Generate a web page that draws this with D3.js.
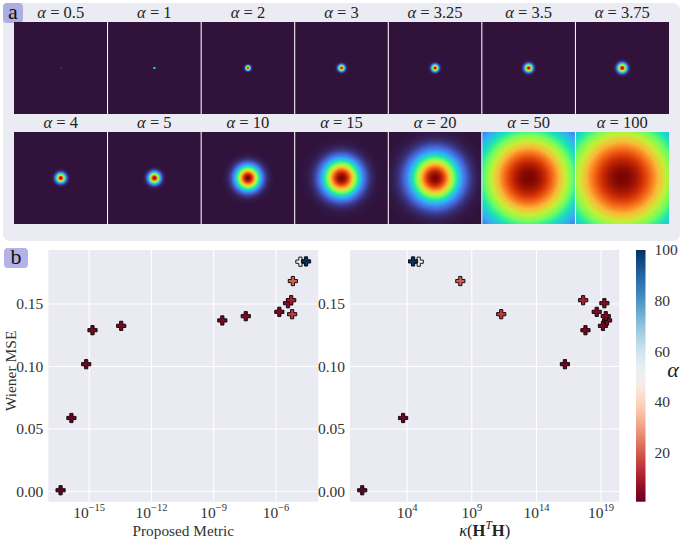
<!DOCTYPE html>
<html><head><meta charset="utf-8">
<script src="https://cdn.jsdelivr.net/npm/d3@7"></script>
<style>
body{margin:0;background:#fff;}
svg{display:block;}
</style>
</head><body>
<svg id="c" width="683" height="540"></svg>
<script>
// ---------- data ----------
const alphas = [0.5, 1, 2, 3, 3.25, 3.5, 3.75, 4, 5, 10, 15, 20, 50, 100];
// blob standard deviation, as a fraction of the image width
const psfSigma = [0.0016, 0.005, 0.016, 0.021, 0.0225, 0.026, 0.030, 0.031, 0.038, 0.081, 0.123, 0.160, 0.363, 0.427];
const mse = [0.001, 0.0588, 0.1018, 0.129, 0.1325, 0.1368, 0.1402, 0.1437, 0.1506, 0.153, 0.1418, 0.1683, 0.1838, 0.184];
const proposedMetric = [4.2e-17, 1.4e-16, 7.2e-16, 1.45e-15, 3.5e-14, 2.6e-9, 3.5e-8, 1.45e-6, 3.8e-6, 5.4e-6, 6.0e-6, 6.5e-6, 1.5e-5, 2.8e-5];
const kappa = [3.4, 4.9e3, 1.6e16, 6.2e17, 1.4e19, 2.9e19, 2.3e19, 4.6e18, 1.8e19, 4.1e17, 1.9e11, 1.3e8, 7.9e4, 2.9e4];
const mseTicks = [0, 0.05, 0.10, 0.15];
const metricTickExps = [-15, -12, -9, -6];
const kappaTickExps = [4, 9, 14, 19];
const cbarTicks = [20, 40, 60, 80, 100];
const turboStops = ["#30123b","#4662d7","#36aaf9","#1ae4b6","#72fe5e","#c8ef34","#faba39","#f66b19","#cb2a04","#7a0403"];

const svg = d3.select("#c");
const turbo = d3.scaleLinear().domain(turboStops.map((_, i) => i / (turboStops.length - 1))).range(turboStops).clamp(true);

function txt(sel) { return sel.append("text").style("font-family", "'Liberation Serif'"); }

// ---------- panel a ----------
svg.append("rect").attr("x", 3).attr("y", 3).attr("width", 677).attr("height", 238).attr("rx", 7).attr("fill", "#ebebf3");
svg.append("rect").attr("x", 3).attr("y", 3).attr("width", 20).attr("height", 20).attr("rx", 4).attr("fill", "#aeaee0");
txt(svg).attr("x", 13).attr("y", 19).attr("text-anchor", "middle").attr("font-size", 22).attr("fill", "#111").text("a");

const imgX0 = 14, imgX1 = 669, nCols = 7;
const rowTops = [22, 132], imgH = 92;
const colScale = d3.scaleBand().domain(d3.range(nCols)).range([imgX0, imgX1]).paddingInner(0);
const cw = colScale.bandwidth();

alphas.forEach((a, i) => {
  const col = i % nCols, row = Math.floor(i / nCols);
  const x = colScale(col), y0 = rowTops[row];
  const W = Math.round(cw), H = imgH;
  const cv = document.createElement("canvas");
  cv.width = W; cv.height = H;
  const ctx = cv.getContext("2d");
  const im = ctx.createImageData(W, H);
  const s = psfSigma[i] * W;
  const ss = 5;
  const mx = W / 2, my = H / 2;
  for (let py = 0; py < H; py++) {
    for (let px = 0; px < W; px++) {
      let acc = 0;
      for (let sy = 0; sy < ss; sy++) for (let sx = 0; sx < ss; sx++) {
        const dx = px + (sx + 0.5) / ss - mx, dy = py + (sy + 0.5) / ss - my;
        acc += Math.exp(-(dx * dx + dy * dy) / (2 * s * s));
      }
      const v = acc / (ss * ss);
      const c = d3.rgb(turbo(v));
      const k = (py * W + px) * 4;
      im.data[k] = c.r; im.data[k + 1] = c.g; im.data[k + 2] = c.b; im.data[k + 3] = 255;
    }
  }
  ctx.putImageData(im, 0, 0);
  svg.append("image").attr("x", x).attr("y", y0).attr("width", cw).attr("height", H)
    .attr("preserveAspectRatio", "none").attr("href", cv.toDataURL());
  const t = txt(svg).attr("x", x + cw / 2).attr("y", y0 - 4).attr("text-anchor", "middle")
    .attr("font-size", 16.5).attr("fill", "#222");
  t.append("tspan").attr("font-style", "italic").text("α");
  t.append("tspan").text(" = " + a);
});
// white separators
for (let r = 0; r < 2; r++) {
  for (let c = 1; c < nCols; c++) {
    svg.append("line").attr("x1", colScale(c)).attr("x2", colScale(c))
      .attr("y1", rowTops[r]).attr("y2", rowTops[r] + imgH).attr("stroke", "#fff").attr("stroke-width", 1);
  }
}

// ---------- panel b ----------
svg.append("rect").attr("x", 4).attr("y", 248).attr("width", 24).attr("height", 20).attr("rx", 4).attr("fill", "#b3b3e8");
txt(svg).attr("x", 16).attr("y", 264).attr("text-anchor", "middle").attr("font-size", 22).attr("fill", "#111").text("b");

const plotTop = 250, plotBottom = 501.7;
function padLog(vals) {
  const e = d3.extent(vals.map(v => Math.log10(v)));
  const p = (e[1] - e[0]) * 0.05;
  return [Math.pow(10, e[0] - p), Math.pow(10, e[1] + p)];
}
const me = d3.extent(mse), mp = (me[1] - me[0]) * 0.05;
const yScale = d3.scaleLinear().domain([me[0] - mp, me[1] + mp]).range([plotBottom, plotTop]);
const color = d3.scaleSequential(d3.interpolateRdBu).domain([d3.min(alphas), d3.max(alphas)]);

const plusPath = "M-1.6,-4.6H1.6V-1.6H4.6V1.6H1.6V4.6H-1.6V1.6H-4.6V-1.6H-1.6Z";

function panel(x0, x1, xvals, tickExps, xlabelFn) {
  const x = d3.scaleLog().domain(padLog(xvals)).range([x0, x1]);
  const g = svg.append("g");
  g.append("rect").attr("x", x0).attr("y", plotTop).attr("width", x1 - x0).attr("height", plotBottom - plotTop).attr("fill", "#eaeaf2");
  tickExps.forEach(e => {
    const px = x(Math.pow(10, e));
    g.append("line").attr("x1", px).attr("x2", px).attr("y1", plotTop).attr("y2", plotBottom).attr("stroke", "#fff").attr("stroke-width", 1.1);
    const t = txt(g).attr("x", px).attr("y", 518).attr("text-anchor", "middle").attr("font-size", 15.5).attr("fill", "#333");
    t.append("tspan").text("10");
    t.append("tspan").attr("dy", -7).attr("font-size", 10.5).text(String(e).replace("-", "−"));
  });
  mseTicks.forEach(v => {
    const py = yScale(v);
    g.append("line").attr("x1", x0).attr("x2", x1).attr("y1", py).attr("y2", py).attr("stroke", "#fff").attr("stroke-width", 1.1);
    txt(g).attr("x", x0 - 5).attr("y", py).attr("dy", "0.35em").attr("text-anchor", "end")
      .attr("font-size", 15.5).attr("fill", "#333").text(v.toFixed(2));
  });
  alphas.forEach((a, i) => {
    g.append("path").attr("d", plusPath)
      .attr("transform", `translate(${x(xvals[i])},${yScale(mse[i])})`)
      .attr("fill", color(a)).attr("stroke", "#000").attr("stroke-width", 0.9);
  });
  xlabelFn(g, (x0 + x1) / 2);
}

panel(48.3, 318.3, proposedMetric, metricTickExps, (g, cx) => {
  txt(g).attr("x", cx).attr("y", 536).attr("text-anchor", "middle").attr("font-size", 15.3).attr("fill", "#333").text("Proposed Metric");
});
panel(350, 619.3, kappa, kappaTickExps, (g, cx) => {
  const t = txt(g).attr("x", cx).attr("y", 536).attr("text-anchor", "middle").attr("font-size", 16.5).attr("fill", "#222");
  t.append("tspan").attr("font-style", "italic").text("κ");
  t.append("tspan").text("(");
  t.append("tspan").attr("font-weight", "bold").text("H");
  t.append("tspan").attr("font-style", "italic").attr("font-size", 11.5).attr("dy", -7).text("T");
  t.append("tspan").attr("font-weight", "bold").attr("dy", 7).text("H");
  t.append("tspan").text(")");
});

txt(svg).attr("transform", "translate(16,371) rotate(-90)").attr("text-anchor", "middle")
  .attr("font-size", 15.5).attr("fill", "#333").text("Wiener MSE");

// colorbar
const cbX = 636, cbW = 9.5;
const cbScale = d3.scaleLinear().domain([d3.min(alphas), d3.max(alphas)]).range([plotBottom, plotTop]);
const defs = svg.append("defs");
const grad = defs.append("linearGradient").attr("id", "cb").attr("x1", 0).attr("y1", 1).attr("x2", 0).attr("y2", 0);
d3.range(0, 1.0001, 0.05).forEach(t => {
  grad.append("stop").attr("offset", t).attr("stop-color", d3.interpolateRdBu(t));
});
svg.append("rect").attr("x", cbX).attr("y", plotTop).attr("width", cbW).attr("height", plotBottom - plotTop).attr("fill", "url(#cb)");
cbarTicks.forEach(v => {
  txt(svg).attr("x", cbX + cbW + 9).attr("y", cbScale(v)).attr("dy", "0.35em")
    .attr("font-size", 15.5).attr("fill", "#333").text(v);
});
txt(svg).attr("x", 673).attr("y", 377).attr("text-anchor", "middle").attr("font-size", 22)
  .attr("font-style", "italic").attr("fill", "#222").text("α");
</script>
</body></html>
